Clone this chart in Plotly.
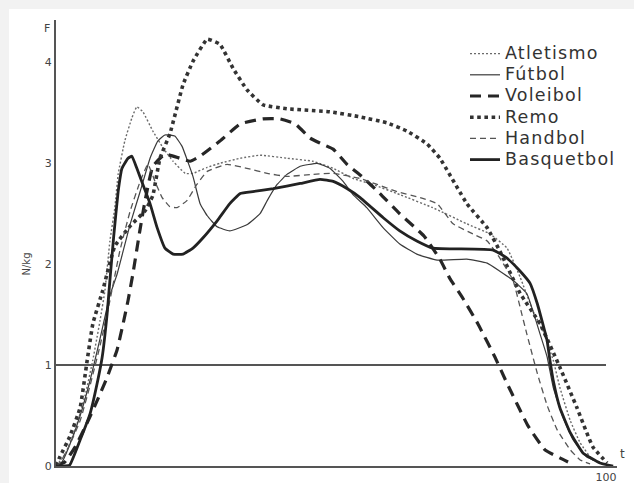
import plotly.graph_objects as go

# ---- data (t in %, F in N/kg) ----
atletismo_t = [0, 1.6, 3.5, 5.3, 6.7, 8, 8.9, 9.8, 10.7, 11.3, 12.5, 13.8, 14.7, 15.8, 17.6, 19.5, 21.3, 23.5, 24.9,
               27.5, 29.8, 33.5, 37.1, 42, 46.7, 50.4, 54, 57.6, 62.5, 68.5, 74.7, 78.9, 82, 84.4, 86.7, 88.5, 90.4,
               91.6, 93.5, 95.3, 97.6, 100.2]
atletismo_f = [0, 0.11, 0.36, 0.70, 1.05, 1.44, 1.74, 2.23, 2.56, 2.89, 3.22, 3.45, 3.56, 3.51, 3.32, 3.15, 3.02, 2.90,
               2.90, 2.96, 3.0, 3.05, 3.08, 3.05, 3.02, 2.95, 2.85, 2.79, 2.69, 2.56, 2.40, 2.30, 2.16, 1.87, 1.54,
               1.34, 1.05, 0.78, 0.45, 0.23, 0.06, 0.01]

futbol_t = [0, 1.1, 2.5, 4.4, 6.2, 8, 9.8, 11.1, 13.5, 15.3, 17.1, 18.5, 19.8, 21.6, 22.9, 24.9, 26.2, 27.5, 29.3,
            31.6, 34.7, 37.1, 38.4, 40.2, 42, 44.4, 47.5, 49.8, 52.2, 54, 56.5, 59.5, 62.5, 65.6, 69.3, 74.7, 78.4,
            80.7, 83.1, 85.6, 88, 89.3, 90.4, 92.2, 94, 96.5, 100.2]
futbol_f = [0, 0.04, 0.21, 0.5, 0.85, 1.26, 1.69, 1.9, 2.4, 2.72, 3.05, 3.22, 3.28, 3.27, 3.17, 2.87, 2.60, 2.48, 2.37,
            2.33, 2.39, 2.50, 2.63, 2.79, 2.89, 2.97, 3.0, 2.95, 2.82, 2.69, 2.56, 2.36, 2.20, 2.10, 2.04, 2.05, 2.01,
            1.93, 1.84, 1.71, 1.31, 1.08, 0.78, 0.48, 0.26, 0.09, 0.01]

voleibol_t = [0, 1.6, 3.5, 5.6, 7.5, 9.3, 11.1, 12.2, 13.1, 14, 15.3, 16.2, 17.6, 19.8, 22.5, 24.4, 26.2, 29.8, 33.5,
              37.6, 40.7, 43.5, 46.2, 48, 50.4, 52.9, 55.6, 58.9, 62.5, 66.9, 69.8, 71.6, 74, 76.7, 79.8, 82, 85.8,
              88.9, 91.6, 93.1]
voleibol_f = [0, 0.04, 0.19, 0.42, 0.65, 0.88, 1.15, 1.41, 1.64, 1.91, 2.35, 2.63, 2.97, 3.09, 3.05, 3.02, 3.07, 3.22,
              3.39, 3.44, 3.44, 3.39, 3.25, 3.2, 3.14, 2.99, 2.87, 2.7, 2.5, 2.28, 2.05, 1.86, 1.66, 1.41, 1.08, 0.82,
              0.40, 0.16, 0.08, 0.04]

remo_t = [0, 0.7, 2.5, 4.4, 5.6, 6.7, 8.5, 10.7, 13.5, 16.2, 17.6, 18.9, 20.7, 23.1, 24.9, 27.5, 29.8, 32.2, 34.7,
          37.6, 42, 49.8, 55.3, 60.2, 63.8, 67.5, 69.8, 74.7, 78.4, 80.7, 84.4, 88, 91.6, 94.7, 97.6, 100.2]
remo_f = [0, 0.09, 0.29, 0.58, 1.02, 1.41, 1.74, 2.18, 2.38, 2.53, 2.68, 3.05, 3.29, 3.78, 4.01, 4.23, 4.18, 3.94, 3.73,
          3.58, 3.54, 3.51, 3.46, 3.40, 3.32, 3.19, 3.05, 2.6, 2.36, 2.13, 1.71, 1.41, 0.98, 0.58, 0.19, 0.03]

handbol_t = [0, 0.7, 2.5, 4.4, 6.2, 8, 9.8, 11.6, 13.5, 15.3, 16.7, 18, 19.3, 20.7, 22, 23.8, 25.6, 27.5, 31.1, 34.7,
             38.4, 42, 46.7, 50.4, 55.3, 58.4, 62, 66.2, 69.3, 72.2, 75.8, 78.4, 80.7, 83.1, 84.4, 85.6, 87.5, 89.3,
             91.1, 93.5, 95.3, 97.1]
handbol_f = [0, 0.03, 0.21, 0.45, 0.80, 1.19, 1.64, 2.13, 2.53, 2.82, 2.99, 2.82, 2.66, 2.57, 2.56, 2.63, 2.79, 2.92,
             2.99, 2.95, 2.90, 2.87, 2.89, 2.90, 2.85, 2.79, 2.72, 2.66, 2.60, 2.40, 2.30, 2.23, 2.06, 1.84, 1.57,
             1.31, 0.92, 0.60, 0.36, 0.16, 0.06, 0.02]

basquetbol_t = [0, 1.3, 2.5, 4.4, 6.2, 7.6, 8.4, 9.3, 9.8, 10.5, 11.3, 12, 13.1, 13.8, 14.7, 15.8, 17.1, 18.4, 19.8,
                21.3, 23.1, 24.9, 26.7, 29.3, 31.6, 33.5, 35.8, 39.5, 44.4, 48, 50.4, 52.9, 55.3, 59.5, 62.5, 65.6,
                68.5, 79.5, 82, 84.4, 86.2, 87.5, 88.5, 89.3, 89.8, 90.4, 91.6, 93.5, 95.8, 98.9, 101.3]
basquetbol_f = [0, 0, 0.01, 0.26, 0.52, 0.85, 1.08, 1.51, 1.84, 2.28, 2.72, 2.95, 3.05, 3.07, 2.95, 2.79, 2.60, 2.36,
                2.16, 2.10, 2.10, 2.16, 2.26, 2.43, 2.60, 2.70, 2.72, 2.75, 2.80, 2.84, 2.82, 2.75, 2.66, 2.46, 2.33,
                2.23, 2.16, 2.14, 2.06, 1.93, 1.81, 1.61, 1.41, 1.24, 1.05, 0.85, 0.58, 0.33, 0.13, 0.03, 0]

y_ticks = [0, 1, 2, 3, 4]
y_tick_labels = ["0", "1", "2", "3", "4"]
x_ticks = [100]
x_tick_labels = ["100"]
reference_level = 1

series = [
    ("Atletismo", atletismo_t, atletismo_f, dict(color="#6a6a6a", width=1.4, dash="2px,2px")),
    ("Fútbol", futbol_t, futbol_f, dict(color="#3a3a3a", width=1.2)),
    ("Voleibol", voleibol_t, voleibol_f, dict(color="#262626", width=3.2, dash="11px,7px")),
    ("Remo", remo_t, remo_f, dict(color="#333333", width=3.6, dash="dot")),
    ("Handbol", handbol_t, handbol_f, dict(color="#555555", width=1.3, dash="6px,4px")),
    ("Basquetbol", basquetbol_t, basquetbol_f, dict(color="#222222", width=2.8)),
]

fig = go.Figure()
for name, t, f, line in series:
    fig.add_trace(go.Scatter(
        x=t, y=f, mode="lines",
        name="<span style='font-size:17.5px;letter-spacing:1.2px'>" + name + "</span>",
        line=dict(shape="spline", smoothing=0.35, **line)))

W, H = 634, 483
ml, mr, mt, mb = 56, 17, 20, 17
pw, ph = W - ml - mr, H - mt - mb

def px_x(p):
    return (p - ml) / pw

def px_y(p):
    return (H - mb - p) / ph

fig.update_layout(
    width=W, height=H,
    margin=dict(l=ml, r=mr, t=mt, b=mb, pad=0, autoexpand=False),
    paper_bgcolor="#f2f2f2",
    plot_bgcolor="rgba(0,0,0,0)",
    font=dict(family="DejaVu Sans", color="#444"),
    showlegend=True,
    legend=dict(
        x=px_x(465), y=px_y(38), xanchor="left", yanchor="top",
        bgcolor="rgba(0,0,0,0)", borderwidth=0,
        font=dict(family="DejaVu Sans", size=14, color="#333"),
        itemwidth=30, tracegroupgap=0,
    ),
    xaxis=dict(
        range=[0, 102], showgrid=False, zeroline=False, automargin=False,
        showline=True, linecolor="#555", linewidth=2,
        tickvals=x_ticks, ticktext=x_tick_labels, ticks="",
        tickfont=dict(size=11, color="#444"),
    ),
    yaxis=dict(
        range=[0, 4.42], showgrid=False, zeroline=False, automargin=False,
        showline=True, linecolor="#555", linewidth=2,
        tickvals=y_ticks, ticktext=y_tick_labels, ticks="",
        tickfont=dict(size=11, color="#444"), ticklabelstandoff=0,
    ),
    shapes=[
        dict(type="rect", xref="paper", yref="paper", x0=px_x(9), x1=px_x(640), y0=px_y(490), y1=px_y(9),
             fillcolor="white", line=dict(width=0), layer="below"),
        dict(type="line", xref="x", yref="y", x0=0, x1=100, y0=reference_level, y1=reference_level,
             line=dict(color="#555", width=2), layer="below"),
    ],
    annotations=[
        dict(text="F", x=px_x(42), y=px_y(20), xref="paper", yref="paper", showarrow=False,
             font=dict(size=11, color="#444")),
        dict(text="t", x=px_x(627), y=px_y(463), xref="paper", yref="paper", showarrow=False,
             font=dict(size=12, color="#444")),
        dict(text="N/kg", x=px_x(18), y=px_y(264), xref="paper", yref="paper", showarrow=False,
             textangle=-90, font=dict(size=10, color="#444")),
    ],
)

fig.write_html("out.html", config={"displayModeBar": False},
               post_script="document.body.style.margin='0';document.body.style.overflow='hidden';")
